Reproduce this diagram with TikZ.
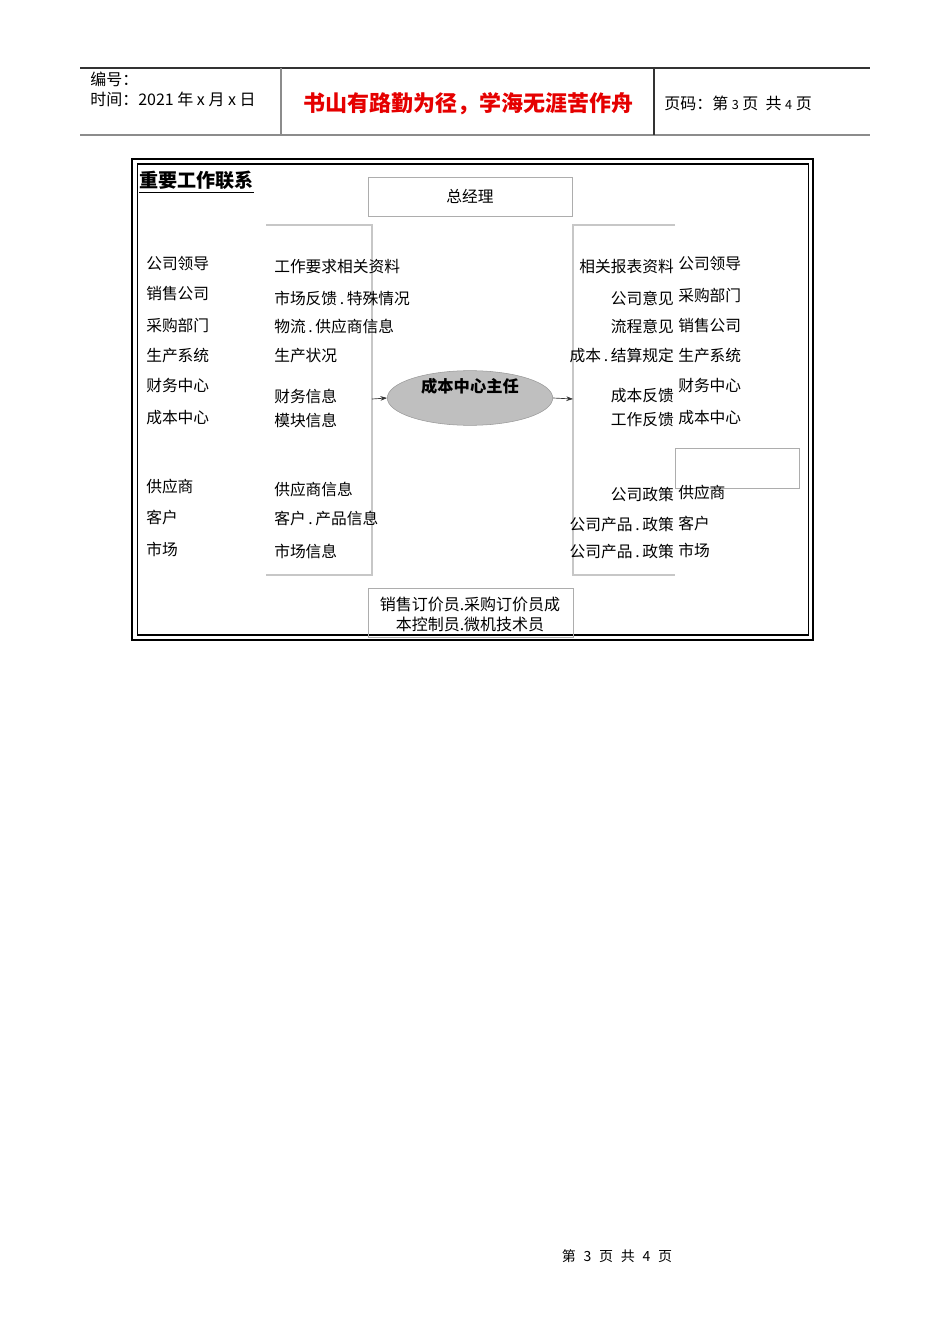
\documentclass[tikz,border=0pt]{standalone}
\usepackage{fontspec}
\setmainfont{Noto Sans CJK SC}
\usetikzlibrary{shapes.geometric,arrows.meta}

\begin{document}
\begin{tikzpicture}[x=0.75pt,y=-0.75pt,
	lbl/.style={inner sep=0pt,font=\fontsize{11.8}{13}\selectfont},
	hdr/.style={inner sep=0pt,anchor=west,font=\fontsize{12}{14}\selectfont},
	bracket/.style={draw=black!22,line width=0.9pt},
	graybox/.style={draw=black!32,line width=0.6pt},
	link/.style={-{Stealth[length=5pt,width=3.5pt]},black!80,line width=0.5pt}]
	\useasboundingbox (0,0) rectangle (950,1344);
	\draw[black!80,line width=0.8pt](80,68)--(870,68);
	\draw[black!45,line width=1.5pt](80,135)--(870,135);
	\draw[black!45,line width=1pt](281,68)--(281,135);
	\draw[black!80,line width=0.8pt](654,68)--(654,135);
	\node[hdr](h1) at (90,79){编号：};
	\node[hdr](h2) at (90,99){时间：2021 年 x 月 x 日};
	\node[inner sep=0pt,text=red!90!black,font=\fontsize{16.5}{18}\bfseries](motto) at (468,104){书山有路勤为径，学海无涯苦作舟};
	\node[hdr](h3) at (664,103){页码：第 {\fontsize{9.5}{10}\selectfont 3} 页\ \ 共 {\fontsize{9.5}{10}\selectfont 4} 页};

	\draw[line width=2.2pt](132,159)rectangle(813,640);
	\draw[line width=0.9pt](137.5,164)rectangle(808.5,635);
	\node[inner sep=0pt,anchor=west,font=\fontsize{14.3}{16}\bfseries](title) at (139,182){\underline{重要工作联系}};

	\draw[graybox](368,177)rectangle(572,216)node[midway,lbl](gm){总经理};
	\draw[bracket](266,225)--(372,225)--(372,575)--(266,575);
	\draw[bracket](675,225)--(573,225)--(573,575)--(675,575);
	\draw[graybox](675,448)rectangle(799,488);
	\draw[graybox](368,588)rectangle(573,637);
	\node[lbl,align=center,font=\fontsize{12}{15}\selectfont](staff) at (470,614){销售订价员.采购订价员成\\本控制员.微机技术员};

	\node[ellipse,draw=black!40,fill=black!25,inner sep=0pt,
		minimum width=124pt,minimum height=41pt](boss) at (470,398){};
	\node[inner sep=0pt,font=\fontsize{12.2}{14}\bfseries](bosstxt) at (470,386){成本中心主任};
	\coordinate(lin) at (372,399);
	\coordinate(rout) at (573,399);
	\draw[link](lin)--(boss.west);
	\draw[link](boss.east)--(rout);

	\node[lbl,anchor=west](l1) at (146,264){公司领导};
	\node[lbl,anchor=west](l2) at (146,294){销售公司};
	\node[lbl,anchor=west](l3) at (146,325){采购部门};
	\node[lbl,anchor=west](l4) at (146,356){生产系统};
	\node[lbl,anchor=west](l5) at (146,386){财务中心};
	\node[lbl,anchor=west](l6) at (146,418){成本中心};
	\node[lbl,anchor=west](l7) at (146,487){供应商};
	\node[lbl,anchor=west](l8) at (146,517){客户};
	\node[lbl,anchor=west](l9) at (146,549){市场};

	\node[lbl,anchor=west](li1) at (274,267){工作要求相关资料};
	\node[lbl,anchor=west](li2) at (274,298){市场反馈\,.\,特殊情况};
	\node[lbl,anchor=west](li3) at (274,326){物流\,.\,供应商信息};
	\node[lbl,anchor=west](li4) at (274,356){生产状况};
	\node[lbl,anchor=west](li5) at (274,396){财务信息};
	\node[lbl,anchor=west](li6) at (274,420){模块信息};
	\node[lbl,anchor=west](li7) at (274,489){供应商信息};
	\node[lbl,anchor=west](li8) at (274,518){客户\,.\,产品信息};
	\node[lbl,anchor=west](li9) at (274,551){市场信息};

	\node[lbl,anchor=east](ri1) at (674,267){相关报表资料};
	\node[lbl,anchor=east](ri2) at (674,298){公司意见};
	\node[lbl,anchor=east](ri3) at (674,326){流程意见};
	\node[lbl,anchor=east](ri4) at (674,356){成本\,.\,结算规定};
	\node[lbl,anchor=east](ri5) at (674,396){成本反馈};
	\node[lbl,anchor=east](ri6) at (674,420){工作反馈};
	\node[lbl,anchor=east](ri7) at (674,495){公司政策};
	\node[lbl,anchor=east](ri8) at (674,525){公司产品\,.\,政策};
	\node[lbl,anchor=east](ri9) at (674,552){公司产品\,.\,政策};

	\node[lbl,anchor=west](r1) at (678,264){公司领导};
	\node[lbl,anchor=west](r2) at (678,295){采购部门};
	\node[lbl,anchor=west](r3) at (678,326){销售公司};
	\node[lbl,anchor=west](r4) at (678,356){生产系统};
	\node[lbl,anchor=west](r5) at (678,386){财务中心};
	\node[lbl,anchor=west](r6) at (678,418){成本中心};
	\node[lbl,anchor=west](r7) at (678,493){供应商};
	\node[lbl,anchor=west](r8) at (678,523){客户};
	\node[lbl,anchor=west](r9) at (678,550){市场};

	\node[inner sep=0pt,font=\fontsize{10.5}{12}\selectfont](foot) at (617,1256){第\hspace{0.55em}3\hspace{0.55em}页\hspace{0.55em}共\hspace{0.55em}4\hspace{0.55em}页};
\end{tikzpicture}
\end{document}
